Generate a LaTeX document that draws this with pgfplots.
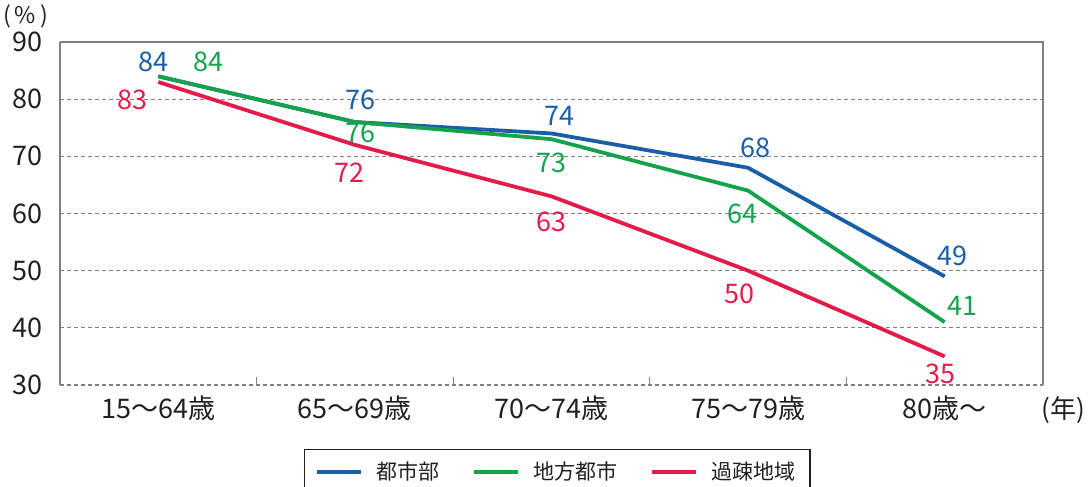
\documentclass[border=0pt]{standalone}
\usepackage{fontspec}
\setmainfont{Noto Sans CJK JP}
\usepackage{pgfplots}
\pgfplotsset{compat=1.18}
\usetikzlibrary{calc}
\definecolor{cblue}{HTML}{1A5EA8}
\definecolor{cgreen}{HTML}{14A24B}
\definecolor{cred}{HTML}{E31B48}
\definecolor{axgray}{HTML}{7F7F7F}
\definecolor{txt}{HTML}{231F20}

\begin{document}
\begin{tikzpicture}
\begin{axis}[
  width=491.5pt, height=171.5pt, scale only axis, clip=false,
  xmin=-0.5, xmax=4.5, ymin=30, ymax=90,
  axis x line*=bottom, axis y line*=left,
  x axis line style={axgray, line width=0.6pt, dash pattern=on 2pt off 1.5pt},
  y axis line style={axgray, line width=0.8pt},
  xtick={0,...,4},
  xticklabels={15〜64歳,65〜69歳,70〜74歳,75〜79歳,80歳〜},
  minor xtick={0.5,1.5,2.5,3.5},
  xtick align=inside,
  major x tick style={draw=none},
  minor x tick style={axgray, line width=0.6pt},
  minor tick length=4pt,
  ytick={30,40,...,90},
  major y tick style={draw=none},
  ymajorgrids, major grid style={axgray, line width=0.5pt, dash pattern=on 2pt off 1.5pt},
  /pgf/number format/assume math mode=true,
  tick label style={font=\fontsize{13.5}{15}\selectfont, text=txt},
  yticklabel style={xshift=-5pt},
  xticklabel style={yshift=-2pt},
  legend style={at={(0.506,-0.187)}, anchor=north, draw=txt, line width=0.6pt,
    legend columns=3, font=\fontsize{10.5}{12}\selectfont, text=txt,
    inner xsep=5pt, inner ysep=4pt,
    /tikz/every odd column/.append style={column sep=5pt},
    /tikz/every even column/.append style={column sep=14pt}},
  legend image code/.code={\draw[#1, line width=2pt] (0pt,0pt) -- (22pt,0pt);},
  every axis plot/.append style={line width=1.9pt},
]
\addplot[cblue] coordinates {(0,84) (1,76) (2,74) (3,68) (4,49)};
\addplot[cgreen] coordinates {(0,84) (1,76) (2,73) (3,64) (4,41)};
\addplot[cred] coordinates {(0,83) (1,72) (2,63) (3,50) (4,35)};
\legend{都市部,地方都市,過疎地域}
\draw[axgray, line width=0.8pt] (rel axis cs:0,1) -- (rel axis cs:1,1) -- (rel axis cs:1,0);
\coordinate (bl) at (rel axis cs:0,0);
\coordinate (tr) at (rel axis cs:1,1);
\begin{scope}[every node/.style={font=\fontsize{13.5}{15}\selectfont}]
\node[text=cblue] at (axis cs:-0.025,86.5) {84};
\node[text=cgreen] at (axis cs:0.254,86.5) {84};
\node[text=cred] at (axis cs:-0.13,79.85) {83};
\node[text=cblue] at (axis cs:1.03,79.85) {76};
\node[text=cgreen] at (axis cs:1.03,74.1) {76};
\node[text=cred] at (axis cs:0.97,67.1) {72};
\node[text=cblue] at (axis cs:2.04,77.05) {74};
\node[text=cgreen] at (axis cs:2.0,68.8) {73};
\node[text=cred] at (axis cs:2.0,58.5) {63};
\node[text=cblue] at (axis cs:3.04,71.45) {68};
\node[text=cgreen] at (axis cs:2.97,59.9) {64};
\node[text=cred] at (axis cs:2.955,45.9) {50};
\node[text=cblue] at (axis cs:4.04,52.6) {49};
\node[text=cgreen] at (axis cs:4.09,43.8) {41};
\node[text=cred] at (axis cs:3.98,31.9) {35};
\node[text=txt, inner sep=0pt, font=\fontsize{11.5}{13}\selectfont] at (axis cs:-0.675,94.4) {(\,\%\,)};
\node[text=txt, inner sep=0pt, font=\fontsize{13}{15}\selectfont] at (axis cs:4.605,25.63) {(年)};
\end{scope}
\end{axis}
\pgfresetboundingbox
\path[use as bounding box] ($(bl)+(-30pt,-50.5pt)$) rectangle ($(tr)+(23pt,21pt)$);
\end{tikzpicture}
\end{document}
